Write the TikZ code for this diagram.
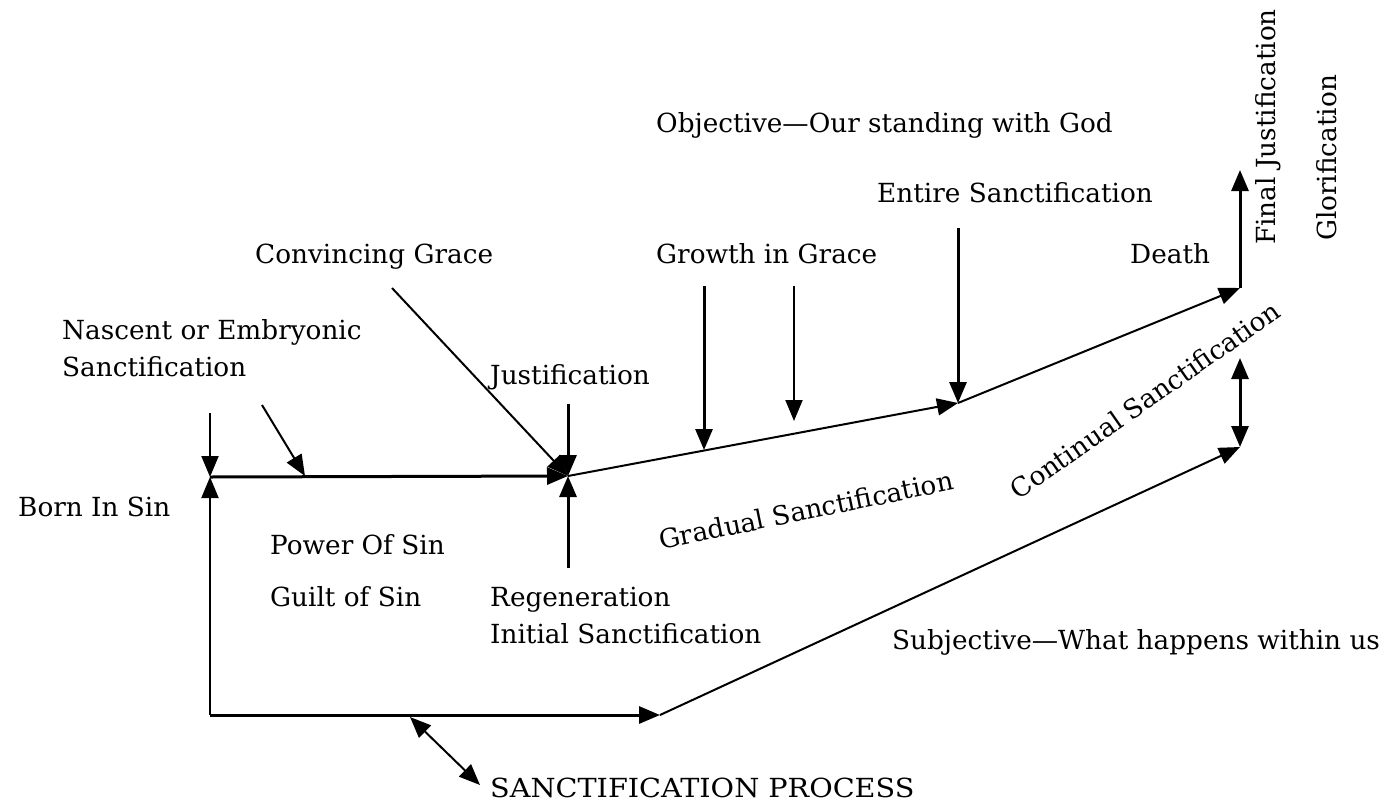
\documentclass[tikz,border=0pt]{standalone}
\usepackage{fontspec}
\setmainfont{DejaVu Serif}
\usetikzlibrary{arrows.meta}
\begin{document}
\begin{tikzpicture}[x=1pt,y=-1pt,
  lbl/.style={anchor=base west, inner sep=0pt, font=\fontsize{26.3}{30}\selectfont},
  rlbl/.style={anchor=center, inner sep=0pt, font=\fontsize{26.3}{30}\selectfont},
  heavy/.style={line width=3pt},
  light/.style={line width=2pt},
  tipend/.style={-{Triangle[length=21pt,width=17pt]}},
  tipboth/.style={{Triangle[length=21pt,width=17pt]}-{Triangle[length=21pt,width=17pt]}},
  ]
\useasboundingbox (0,0) rectangle (1388,803);

% coordinates
\coordinate (bs) at (210,477);
\coordinate (bt) at (210,413);
\coordinate (bb) at (210,715);
\coordinate (br) at (660,715);
\coordinate (j) at (568,476);
\coordinate (nasc) at (262,405);
\coordinate (nascE) at (305,476);
\coordinate (cg) at (392,288);
\coordinate (jt) at (568,404);
\coordinate (rg) at (568,568);
\coordinate (es) at (958,403);
\coordinate (est) at (958,228);
\coordinate (d) at (1240,288);
\coordinate (fj) at (1240,170);
\coordinate (g1t) at (704,286);
\coordinate (g1b) at (704,450);
\coordinate (g2t) at (794,286);
\coordinate (g2b) at (794,421);
\coordinate (ct) at (1240,358);
\coordinate (cb) at (1240,447);
\coordinate (spA) at (410,717);
\coordinate (spB) at (480,785);

% labels
\node[lbl] (obj) at (656,132) {Objective—Our standing with God};
\node[lbl] (ent) at (877,202) {Entire Sanctification};
\node[lbl] (conv) at (255,263) {Convincing Grace};
\node[lbl] (grow) at (656,263) {Growth in Grace};
\node[lbl] (death) at (1130,263) {Death};
\node[lbl] (nas1) at (62,339) {Nascent or Embryonic};
\node[lbl] (nas2) at (62,376) {Sanctification};
\node[lbl] (just) at (490,384) {Justification};
\node[lbl] (born) at (18,516) {Born In Sin};
\node[lbl] (pow) at (270,554) {Power Of Sin};
\node[lbl] (guilt) at (270,606) {Guilt of Sin};
\node[lbl] (reg) at (490,606) {Regeneration};
\node[lbl] (init) at (490,643) {Initial Sanctification};
\node[lbl] (subj) at (892,649) {Subjective—What happens within us};
\node[lbl] (proc) at (490,797) {\scalebox{1.09}[1]{SANCTIFICATION PROCESS}};
\node[rlbl, rotate=11.6] (grad) at (806,510) {Gradual Sanctification};
\node[rlbl, rotate=35] (cont) at (1145,400) {Continual Sanctification};
\node[rlbl, rotate=90] (fjl) at (1268,127) {Final Justification};
\node[rlbl, rotate=90] (glor) at (1327,158) {Glorification};

% connectors
\draw[light,tipend] (bt) -- (bs);
\draw[light,tipend] (bb) -- (bs);
\draw[heavy,tipend] (bs) -- (j);
\draw[light,tipend] (nasc) -- (nascE);
\draw[light,tipend] (cg) -- (j);
\draw[heavy,tipend] (jt) -- (j);
\draw[heavy,tipend] (rg) -- (j);
\draw[light,tipend] (j) -- (es);
\draw[light,tipend] (es) -- (d);
\draw[heavy,tipend] (d) -- (fj);
\draw[heavy,tipend] (est) -- (es);
\draw[heavy,tipend] (g1t) -- (g1b);
\draw[light,tipend] (g2t) -- (g2b);
\draw[heavy,tipboth] (ct) -- (cb);
\draw[heavy,tipend] (bb) -- (br);
\draw[light,tipend] (br) -- (cb);
\draw[light,tipboth] (spA) -- (spB);
\end{tikzpicture}
\end{document}
